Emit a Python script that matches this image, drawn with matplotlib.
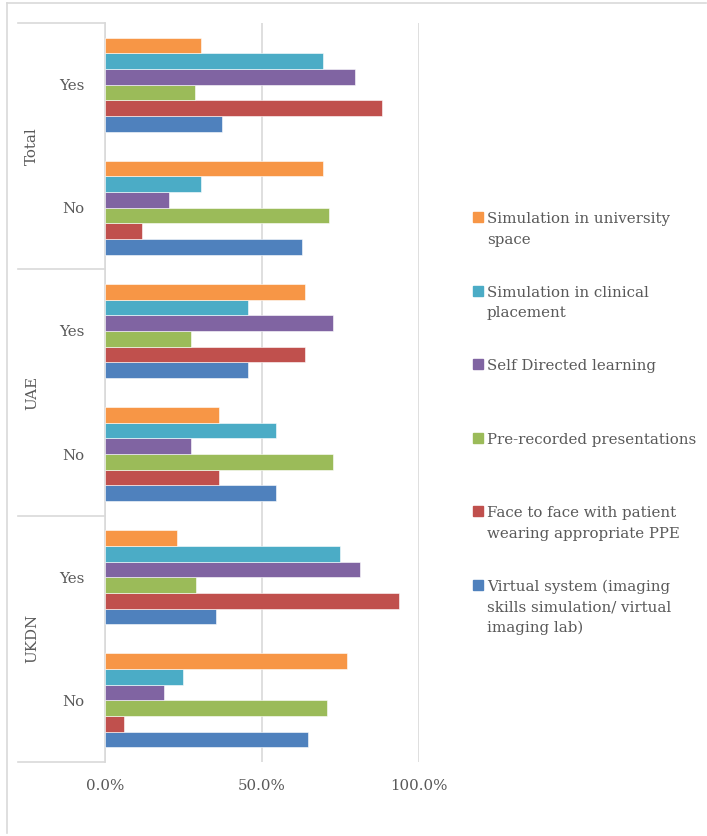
import numpy as np
import matplotlib
matplotlib.use("Agg")
import matplotlib.pyplot as plt
from matplotlib.patches import Rectangle
from matplotlib.lines import Line2D

# categories, bottom to top
groups = ["UKDN", "UAE", "Total"]
answers = ["No", "Yes"]

# series in drawing order (bottom bar of each cluster first)
series = [
    "Virtual system (imaging\nskills simulation/ virtual\nimaging lab)",
    "Face to face with patient\nwearing appropriate PPE",
    "Pre-recorded presentations",
    "Self Directed learning",
    "Simulation in clinical\nplacement",
    "Simulation in university\nspace",
]
colors = ["#4F81BD", "#C0504D", "#9BBB59", "#8064A2", "#4BACC6", "#F79646"]

# shares per category: UKDN No, UKDN Yes, UAE No, UAE Yes, Total No, Total Yes
virtual = [0.645, 0.353, 0.545, 0.455, 0.626, 0.372]
face = [0.061, 0.936, 0.364, 0.636, 0.118, 0.881]
prerec = [0.707, 0.291, 0.727, 0.273, 0.712, 0.287]
selfdir = [0.187, 0.811, 0.273, 0.727, 0.204, 0.796]
sim_clin = [0.248, 0.749, 0.545, 0.455, 0.304, 0.695]
sim_uni = [0.771, 0.228, 0.364, 0.636, 0.695, 0.304]
values = [virtual, face, prerec, selfdir, sim_clin, sim_uni]

W, H = 707, 836
plt.rcParams['font.family'] = 'DejaVu Serif'
fig = plt.figure(figsize=(W / 100, H / 100), dpi=100)
txt = "#595959"
line = "#D9D9D9"
fs = 10.8

x0, x1, ytop, ybot = 105, 419.3, 23, 762
ax = fig.add_axes([x0 / W, 1 - ybot / H, (x1 - x0) / W, (ybot - ytop) / H])

ncat = len(groups) * len(answers)
ypos = np.arange(ncat)
nser = len(series)
bh = 0.763 / nser
for i, (vals, c) in enumerate(zip(values, colors)):
    off = (i - (nser - 1) / 2) * bh
    ax.barh(ypos + off, vals, height=bh, color=c, edgecolor="white", linewidth=0.4, zorder=3)

ax.set_xlim(0, 1)
ax.set_ylim(-0.5, ncat - 0.5)
ax.set_xticks([0, 0.5, 1.0])
ax.set_xticklabels(["0.0%", "50.0%", "100.0%"], color=txt, fontsize=fs)
ax.set_yticks(ypos)
ax.set_yticklabels(answers * len(groups), color=txt, fontsize=fs)
ax.tick_params(axis="x", length=0, pad=12)
ax.tick_params(axis="y", length=0, pad=15)
ax.grid(axis="x", color=line, linewidth=1.2, zorder=0)
for s in ["top", "right", "bottom"]:
    ax.spines[s].set_visible(False)
ax.spines["left"].set_color(line)
ax.spines["left"].set_linewidth(1.2)

# group labels and separators in the category area
tr = ax.get_yaxis_transform()
xl = (18 - x0) / (x1 - x0)
for k in range(len(groups) + 1):
    yy = -0.5 + 2 * k
    ax.add_line(Line2D([xl, 0], [yy, yy], transform=tr, color=line, lw=1.2, clip_on=False))
for k, g in enumerate(groups):
    ax.text((32 - x0) / (x1 - x0), 2 * k + 0.5, g, transform=tr, rotation=90,
            ha="center", va="center", color=txt, fontsize=fs)

# legend, top entry first; each label line placed on its own baseline
for j, i in enumerate(range(nser - 1, -1, -1)):
    yc = 217 + j * 73.6
    fig.patches.append(Rectangle((473 / W, 1 - (yc + 5) / H), 10 / W, 10 / H,
                                 transform=fig.transFigure, color=colors[i]))
    for n, part in enumerate(series[i].split("\n")):
        fig.text(487 / W, 1 - (yc + 6 + n * 20.7) / H, part, va="baseline", ha="left",
                 color=txt, fontsize=fs)

# chart frame
fig.add_artist(Line2D([7 / W, 706 / W], [1 - 3 / H, 1 - 3 / H], color=line, lw=1.2))
fig.add_artist(Line2D([7 / W, 7 / W], [1 - 3 / H, 1 - 833 / H], color=line, lw=1.2))

fig.savefig("out.png", dpi=100)
